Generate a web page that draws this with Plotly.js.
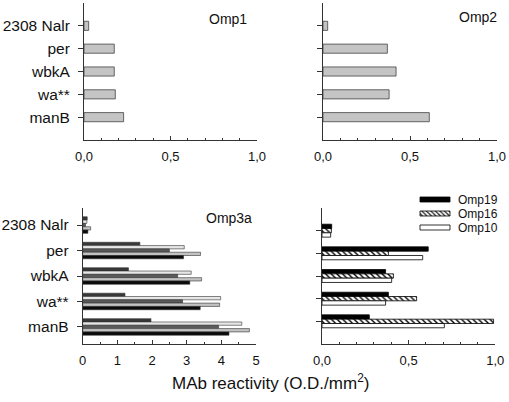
<!DOCTYPE html>
<html>
<head>
<meta charset="utf-8">
<script src="https://cdn.plot.ly/plotly-3.0.1.min.js"></script>
<style>
html,body{margin:0;padding:0;background:#fff;}
#chart{width:509px;height:402px;}
</style>
</head>
<body>
<div id="chart"></div>
<script>
// ---- data ----
const categories = ['2308 Nalr', 'per', 'wbkA', 'wa**', 'manB'];

const omp1 = [0.027, 0.175, 0.175, 0.181, 0.229];
const omp2 = [0.027, 0.370, 0.420, 0.380, 0.611];

// Omp3a panel: five bars per strain (top to bottom)
const omp3aNames = ['Omp3a (1)', 'Omp3a (2)', 'Omp3a (3)', 'Omp3a (4)', 'Omp3a (5)'];
const omp3a_1 = [0.13, 1.65, 1.32, 1.22, 1.97];
const omp3a_2 = [0.12, 2.93, 3.13, 3.98, 4.59];
const omp3a_3 = [0.08, 2.50, 2.74, 2.88, 3.92];
const omp3a_4 = [0.23, 3.40, 3.43, 3.95, 4.81];
const omp3a_5 = [0.15, 2.91, 3.09, 3.39, 4.22];

const omp19 = [0.056, 0.613, 0.367, 0.383, 0.273];
const omp16 = [0.054, 0.383, 0.412, 0.546, 0.990];
const omp10 = [0.050, 0.581, 0.402, 0.367, 0.706];

const panelLabels = ['Omp1', 'Omp2', 'Omp3a'];
const xTitle = 'MAb reactivity (O.D./mm<sup>2</sup>)';

// ---- styling ----
const FONT = 'Liberation Sans, Arial, sans-serif';
const AX = '#333';
const W = 509, H = 402;
const px = v => v / W;
const py = v => 1 - v / H;

const traces = [];
function hbar(vals, name, xa, ya, width, offset, marker, showlegend) {
  traces.push({
    type: 'bar', orientation: 'h', x: vals, y: categories, name: name,
    xaxis: xa, yaxis: ya, width: width, offset: offset,
    marker: marker, showlegend: !!showlegend, hoverinfo: 'x+y+name'
  });
}
const grayBar = {color: '#c4c4c4', line: {color: '#444', width: 0.8}};
hbar(omp1, 'Omp1', 'x', 'y', 0.4, -0.2, grayBar);
hbar(omp2, 'Omp2', 'x2', 'y2', 0.4, -0.2, grayBar);

const o3 = [omp3a_1, omp3a_2, omp3a_3, omp3a_4, omp3a_5];
const o3colors = ['#383838', '#e6e6e6', '#5a5a5a', '#c2c2c2', '#0a0a0a'];
const o3w = 0.13;
o3.forEach((v, i) => {
  hbar(v, omp3aNames[i], 'x3', 'y3', o3w, -0.325 + i * o3w,
    {color: o3colors[i], line: {color: '#333', width: 0.6}});
});

const w4 = 0.19;
hbar(omp19, 'Omp19', 'x4', 'y4', w4, -0.285, {color: '#000', line: {color: '#000', width: 0.8}}, true);
hbar(omp16, 'Omp16', 'x4', 'y4', w4, -0.285 + w4,
  {color: '#fff', line: {color: '#000', width: 0.8},
   pattern: {shape: '\\', fgcolor: '#000', bgcolor: '#fff', size: 4, solidity: 0.35}}, true);
hbar(omp10, 'Omp10', 'x4', 'y4', w4, -0.285 + 2 * w4, {color: '#fff', line: {color: '#000', width: 0.8}}, true);

function xax(domain, anchor, range, dtick, minorDtick, fmt) {
  return {
    domain: domain, anchor: anchor, range: range, tickmode: 'linear', tick0: 0, dtick: dtick,
    tickformat: fmt, ticks: 'inside', ticklen: 4, tickwidth: 1, tickcolor: AX,
    minor: {dtick: minorDtick, ticks: 'inside', ticklen: 2, tickcolor: AX, tickwidth: 1},
    showline: true, linecolor: AX, linewidth: 1, showgrid: false, zeroline: false,
    tickfont: {family: FONT, size: 13, color: '#111'}, ticklabelstandoff: 4, fixedrange: true
  };
}
function yax(domain, anchor, range, showlabels) {
  return {
    domain: domain, anchor: anchor, range: range, type: 'category',
    ticks: 'outside', ticklen: 5, tickwidth: 1, tickcolor: AX,
    showline: true, linecolor: AX, linewidth: 1, showgrid: false, zeroline: false,
    showticklabels: showlabels, tickfont: {family: FONT, size: 15.5, color: '#111'},
    ticklabelstandoff: 5, fixedrange: true
  };
}

const topY = [py(140), py(3)];
const botY = [py(344), py(208)];

const layout = {
  width: W, height: H,
  margin: {l: 0, r: 0, t: 0, b: 0, pad: 0},
  paper_bgcolor: '#fff', plot_bgcolor: 'rgba(0,0,0,0)',
  separators: ', ',
  barmode: 'overlay',
  font: {family: FONT, color: '#111'},
  xaxis: xax([px(84), px(257)], 'y', [0, 1], 0.5, 0.1, '.1f'),
  yaxis: yax(topY, 'x', [5, -1], true),
  xaxis2: xax([px(323), px(497)], 'y2', [0, 1], 0.5, 0.1, '.1f'),
  yaxis2: yax(topY, 'x2', [5, -1], false),
  xaxis3: xax([px(82.7), px(256)], 'y3', [0, 5], 1, 0.5, 'd'),
  yaxis3: yax(botY, 'x3', [4.67, -0.67], true),
  xaxis4: xax([px(322), px(495.3)], 'y4', [0, 1], 0.5, 0.1, '.1f'),
  yaxis4: yax(botY, 'x4', [5, -1], false),
  showlegend: true,
  legend: {
    x: px(418), xanchor: 'left', y: py(185), yanchor: 'top',
    bgcolor: 'rgba(0,0,0,0)', borderwidth: 0, traceorder: 'normal',
    font: {family: FONT, size: 12, color: '#111'}, itemclick: false, itemdoubleclick: false
  },
  annotations: [
    {text: panelLabels[0], x: px(249), y: py(19), xref: 'paper', yref: 'paper', xanchor: 'right', yanchor: 'middle', showarrow: false, font: {family: FONT, size: 14, color: '#111'}},
    {text: panelLabels[1], x: px(499), y: py(17), xref: 'paper', yref: 'paper', xanchor: 'right', yanchor: 'middle', showarrow: false, font: {family: FONT, size: 14, color: '#111'}},
    {text: panelLabels[2], x: px(254), y: py(218), xref: 'paper', yref: 'paper', xanchor: 'right', yanchor: 'middle', showarrow: false, font: {family: FONT, size: 14, color: '#111'}},
    {text: xTitle, x: px(270), y: py(382), xref: 'paper', yref: 'paper', xanchor: 'center', yanchor: 'middle', showarrow: false, font: {family: FONT, size: 17, color: '#111'}}
  ]
};

Plotly.newPlot('chart', traces, layout, {staticPlot: true, displayModeBar: false}).then(gd => {
  // widen legend swatches and set item spacing to match the original figure
  gd.querySelectorAll('.legend .legendpoints path').forEach(p => {
    p.setAttribute('d', 'M12,2.5H-18V-2.5H12Z');
  });
  const items = gd.querySelectorAll('.legend .traces');
  if (items.length) {
    const m = /translate\(\s*([-\d.]+)[ ,]+([-\d.]+)\s*\)/.exec(items[0].getAttribute('transform') || '');
    const bx = m ? parseFloat(m[1]) : 0, by = m ? parseFloat(m[2]) : 0;
    items.forEach((g, i) => g.setAttribute('transform', 'translate(' + bx + ',' + (by + i * 14) + ')'));
  }
});
</script>
</body>
</html>
